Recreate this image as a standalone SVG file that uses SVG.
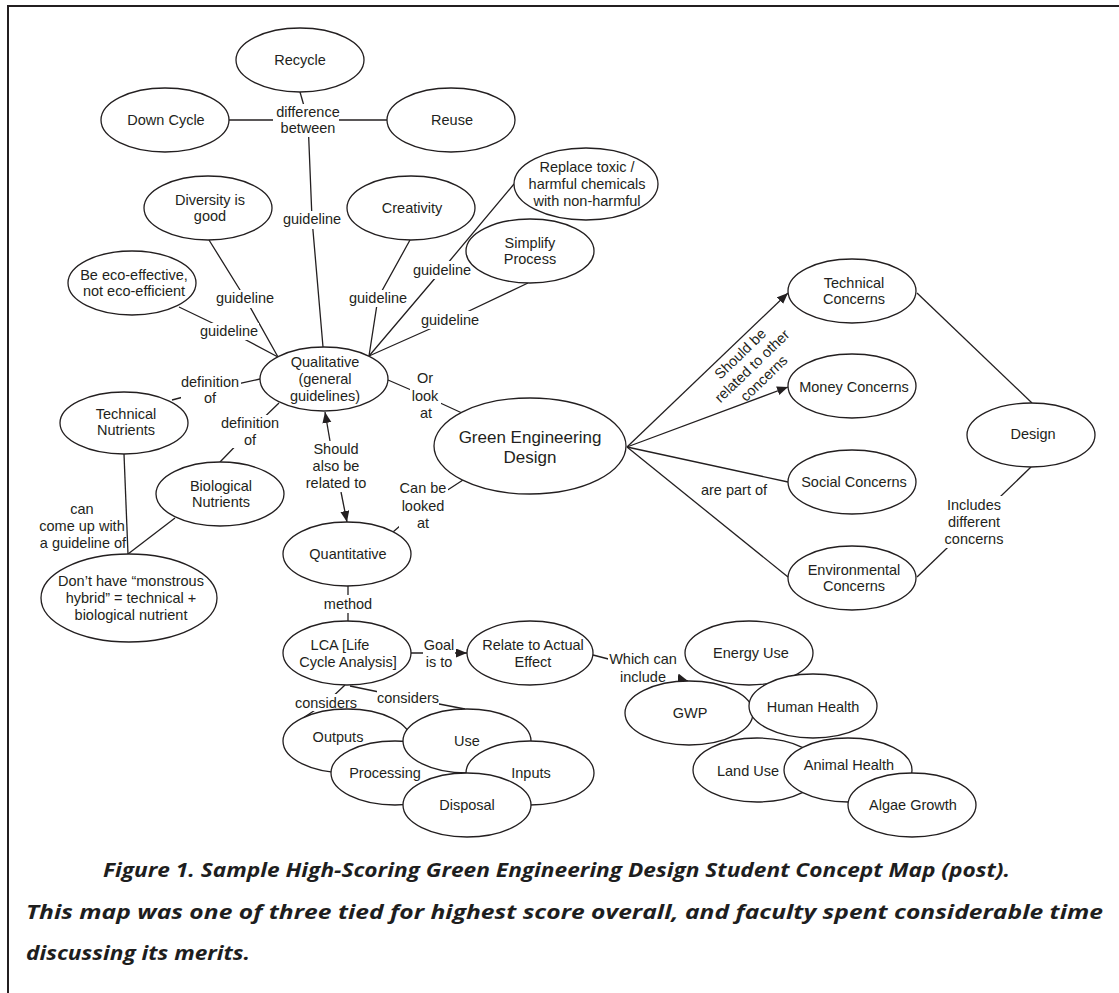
<svg xmlns="http://www.w3.org/2000/svg" width="1119" height="993" viewBox="0 0 1119 993">
  <style>
    .n ellipse { fill: #fff; stroke: #231f20; stroke-width: 1.3; }
    text { font-family: "Liberation Sans", Arial, Helvetica, sans-serif; font-size: 14.5px; fill: #231f20; text-anchor: middle; }
    .big { font-size: 17px; }
    .c path { fill: none; stroke: #231f20; stroke-width: 1.3; }
    .bg { fill: #fff; }
    .cap { font-family: "Open Sans", "DejaVu Sans", sans-serif; font-size: 19px; font-weight: 700; font-style: italic; text-anchor: start; fill: #1e1e1e; }
  </style>
  <defs>
    <marker id="arrow" markerUnits="userSpaceOnUse" markerWidth="12" markerHeight="10" refX="11" refY="4.5" orient="auto">
      <path d="M0,0 L11,4.5 L0,9 z" fill="#231f20"/>
    </marker>
  </defs>

  <rect x="0" y="0" width="1119" height="993" fill="#fff"/>
  <!-- frame -->
  <path d="M8,993 L8,6 L1119,6" fill="none" stroke="#231f20" stroke-width="2"/>

  <!-- connectors and linking phrases -->
  <g id="connectors" class="c">
    <path d="M300,92 L308,120"/>
    <path d="M228,120 L387,120"/>
    <path d="M308,120 L312,219 L323,347"/>
    <path d="M209,240 L245,298 L278,357"/>
    <path d="M179,307 L229,331 L278,357"/>
    <path d="M172,400 L210,390 L260,379"/>
    <path d="M279,403 L250,431 L220,462"/>
    <path d="M388,380 L425,396 L462,413"/>
    <path d="M463,480 L423,506 L393,532"/>
    <path d="M330,441 L325,412" marker-end="url(#arrow)"/>
    <path d="M341,492 L347,522" marker-end="url(#arrow)"/>
    <path d="M348,586 L348,622"/>
    <path d="M411,653 L439,653 L467,653" marker-end="url(#arrow)"/>
    <path d="M593,655 L643,668 L688,681" marker-end="url(#arrow)"/>
    <path d="M345,685 L326,703 L303,718"/>
    <path d="M350,686 L408,698 L465,709"/>
    <path d="M124,454 L128,554"/>
    <path d="M175,518 L128,554"/>
    <path d="M369,356 L378,298 L410,240"/>
    <path d="M369,356 L442,270 L514,184"/>
    <path d="M369,356 L450,320 L528,283"/>
    <path d="M627,447 L788,293" marker-end="url(#arrow)"/>
    <path d="M627,447 L788,387" marker-end="url(#arrow)"/>
    <path d="M627,447 L788,482"/>
    <path d="M627,447 L788,577"/>
    <path d="M917,293 L1032,403"/>
    <path d="M1031,467 L974,522 L917,577"/>

    <!-- label backgrounds -->
    <rect class="bg" x="273" y="104" width="66" height="33"/>
    <rect class="bg" x="283" y="211" width="59" height="18"/>
    <rect class="bg" x="216" y="290" width="59" height="18"/>
    <rect class="bg" x="200" y="323" width="59" height="17"/>
    <rect class="bg" x="181" y="374" width="60" height="32"/>
    <rect class="bg" x="221" y="415" width="58" height="33"/>
    <rect class="bg" x="410" y="369" width="31" height="53"/>
    <rect class="bg" x="399" y="479" width="49" height="53"/>
    <rect class="bg" x="304" y="441" width="64" height="51"/>
    <rect class="bg" x="322" y="595" width="52" height="18"/>
    <rect class="bg" x="423" y="636" width="32" height="35"/>
    <rect class="bg" x="608" y="650" width="70" height="36"/>
    <rect class="bg" x="295" y="694" width="62" height="17"/>
    <rect class="bg" x="377" y="690" width="62" height="15"/>
    <rect class="bg" x="349" y="290" width="58" height="17"/>
    <rect class="bg" x="413" y="261" width="58" height="18"/>
    <rect class="bg" x="422" y="311" width="57" height="18"/>
    <rect class="bg" x="945" y="496" width="60" height="52"/>

    <text x="308" y="117">difference</text>
    <text x="308" y="133">between</text>
    <text x="312" y="224">guideline</text>
    <text x="245" y="303">guideline</text>
    <text x="229" y="336">guideline</text>
    <text x="210" y="387">definition</text>
    <text x="210" y="403">of</text>
    <text x="250" y="428">definition</text>
    <text x="250" y="445">of</text>
    <text x="425" y="383">Or</text>
    <text x="425" y="401">look</text>
    <text x="426" y="418">at</text>
    <text x="423" y="493">Can be</text>
    <text x="423" y="511">looked</text>
    <text x="423" y="528">at</text>
    <text x="336" y="454">Should</text>
    <text x="336" y="471">also be</text>
    <text x="336" y="488">related to</text>
    <text x="348" y="609">method</text>
    <text x="439" y="650">Goal</text>
    <text x="439" y="667">is to</text>
    <text x="643" y="664">Which can</text>
    <text x="643" y="682">include</text>
    <text x="326" y="708">considers</text>
    <text x="408" y="703">considers</text>
    <text x="378" y="303">guideline</text>
    <text x="442" y="275">guideline</text>
    <text x="450" y="325">guideline</text>
    <text x="974" y="510">Includes</text>
    <text x="974" y="527">different</text>
    <text x="974" y="544">concerns</text>
    <text x="82" y="514">can</text>
    <text x="82" y="531">come up with</text>
    <text x="83" y="548">a guideline of</text>
    <text x="734" y="495">are part of</text>
    <g transform="translate(752,366) rotate(-44)">
      <text x="0" y="-12">Should be</text>
      <text x="0" y="5">related to other</text>
      <text x="0" y="22">concerns</text>
    </g>
  </g>

  <!-- concept nodes -->
  <g id="recycle" class="n"><ellipse cx="300" cy="60" rx="64" ry="32"/><text x="300" y="65">Recycle</text></g>
  <g id="down-cycle" class="n"><ellipse cx="165" cy="120" rx="64" ry="32"/><text x="166" y="125">Down Cycle</text></g>
  <g id="reuse" class="n"><ellipse cx="451" cy="120" rx="64" ry="32"/><text x="452" y="125">Reuse</text></g>
  <g id="diversity" class="n"><ellipse cx="208" cy="208" rx="64" ry="32"/><text x="210" y="205">Diversity is</text><text x="210" y="221">good</text></g>
  <g id="creativity" class="n"><ellipse cx="411" cy="208" rx="64" ry="32"/><text x="412" y="213">Creativity</text></g>
  <g id="replace-toxic" class="n"><ellipse cx="586" cy="184" rx="72" ry="36"/><text x="587" y="172">Replace toxic /</text><text x="587" y="189">harmful chemicals</text><text x="587" y="206">with non-harmful</text></g>
  <g id="simplify" class="n"><ellipse cx="530" cy="251" rx="64" ry="32"/><text x="530" y="248">Simplify</text><text x="530" y="264">Process</text></g>
  <g id="eco-effective" class="n"><ellipse cx="132" cy="283" rx="64" ry="32"/><text x="134" y="280">Be eco-effective,</text><text x="134" y="296">not eco-efficient</text></g>
  <g id="qualitative" class="n"><ellipse cx="324" cy="379" rx="64" ry="32"/><text x="325" y="367">Qualitative</text><text x="325" y="384">(general</text><text x="325" y="401">guidelines)</text></g>
  <g id="technical-nutrients" class="n"><ellipse cx="124" cy="423" rx="64" ry="31"/><text x="126" y="419">Technical</text><text x="126" y="435">Nutrients</text></g>
  <g id="biological-nutrients" class="n"><ellipse cx="220" cy="494" rx="64" ry="32"/><text x="221" y="491">Biological</text><text x="221" y="507">Nutrients</text></g>
  <g id="monstrous-hybrid" class="n"><ellipse cx="129" cy="598" rx="88" ry="44"/><text x="131" y="586">Don’t have “monstrous</text><text x="131" y="603">hybrid” = technical +</text><text x="131" y="620">biological nutrient</text></g>
  <g id="quantitative" class="n"><ellipse cx="347" cy="554" rx="64" ry="32"/><text x="348" y="559">Quantitative</text></g>
  <g id="green-engineering-design" class="n"><ellipse cx="530" cy="446" rx="96" ry="48"/><text class="big" x="530" y="443">Green Engineering</text><text class="big" x="530" y="463">Design</text></g>
  <g id="technical-concerns" class="n"><ellipse cx="852" cy="291" rx="64" ry="32"/><text x="854" y="288">Technical</text><text x="854" y="304">Concerns</text></g>
  <g id="money-concerns" class="n"><ellipse cx="852" cy="386" rx="64" ry="32"/><text x="854" y="392">Money Concerns</text></g>
  <g id="social-concerns" class="n"><ellipse cx="852" cy="482" rx="64" ry="32"/><text x="854" y="487">Social Concerns</text></g>
  <g id="environmental-concerns" class="n"><ellipse cx="852" cy="578" rx="64" ry="32"/><text x="854" y="575">Environmental</text><text x="854" y="591">Concerns</text></g>
  <g id="design" class="n"><ellipse cx="1031" cy="435" rx="64" ry="32"/><text x="1033" y="439">Design</text></g>
  <g id="lca" class="n"><ellipse cx="347" cy="653" rx="64" ry="32"/><text x="340" y="650">LCA [Life</text><text x="348" y="667">Cycle Analysis]</text></g>
  <g id="actual-effect" class="n"><ellipse cx="530" cy="653" rx="63" ry="32"/><text x="533" y="650">Relate to Actual</text><text x="533" y="667">Effect</text></g>

  <!-- overlapping life-cycle stages -->
  <g id="outputs" class="n"><ellipse cx="347" cy="741" rx="64" ry="32"/><text x="338" y="742">Outputs</text></g>
  <g id="processing" class="n"><ellipse cx="395" cy="773" rx="64" ry="32"/><text x="385" y="778">Processing</text></g>
  <g id="use" class="n"><ellipse cx="467" cy="741" rx="64" ry="32"/><text x="467" y="746">Use</text></g>
  <g id="inputs" class="n"><ellipse cx="530" cy="773" rx="64" ry="32"/><text x="531" y="778">Inputs</text></g>
  <g id="disposal" class="n"><ellipse cx="467" cy="805" rx="64" ry="32"/><text x="467" y="810">Disposal</text></g>

  <!-- overlapping impact categories -->
  <g id="energy-use" class="n"><ellipse cx="749" cy="653" rx="64" ry="32"/><text x="751" y="658">Energy Use</text></g>
  <g id="gwp" class="n"><ellipse cx="689" cy="713" rx="64" ry="32"/><text x="690" y="718">GWP</text></g>
  <g id="human-health" class="n"><ellipse cx="813" cy="706" rx="64" ry="32"/><text x="813" y="712">Human Health</text></g>
  <g id="land-use" class="n"><ellipse cx="757" cy="770" rx="64" ry="32"/><text x="748" y="776">Land Use</text></g>
  <g id="animal-health" class="n"><ellipse cx="848" cy="770" rx="64" ry="32"/><text x="849" y="770">Animal Health</text></g>
  <g id="algae-growth" class="n"><ellipse cx="912" cy="805" rx="64" ry="32"/><text x="913" y="810">Algae Growth</text></g>

  <!-- caption -->
  <g id="caption">
    <text class="cap" x="103" y="877" textLength="907" lengthAdjust="spacingAndGlyphs">Figure 1. Sample High-Scoring Green Engineering Design Student Concept Map (post).</text>
    <text class="cap" x="26" y="919" textLength="1077" lengthAdjust="spacingAndGlyphs">This map was one of three tied for highest score overall, and faculty spent considerable time</text>
    <text class="cap" x="26" y="960" textLength="224" lengthAdjust="spacingAndGlyphs">discussing its merits.</text>
  </g>
</svg>
